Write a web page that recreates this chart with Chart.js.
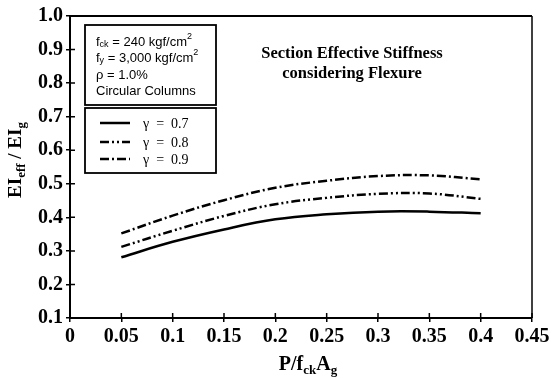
<!DOCTYPE html>
<html>
<head>
<meta charset="utf-8">
<script src="https://cdn.jsdelivr.net/npm/chart.js@4.4.0/dist/chart.umd.min.js"></script>
<style>
  html, body { margin: 0; padding: 0; background: #fff; }
  #wrap { width: 553px; height: 378px; }
</style>
</head>
<body>
<div id="wrap"><canvas id="mychart" width="553" height="378"></canvas></div>
<script>
// Dữ liệu
const xValues = [0.05, 0.1, 0.15, 0.2, 0.25, 0.3, 0.35, 0.4];
const gamma07 = [0.281, 0.327, 0.364, 0.394, 0.409, 0.417, 0.417, 0.412];
const gamma08 = [0.312, 0.360, 0.404, 0.439, 0.458, 0.470, 0.471, 0.455];
const gamma09 = [0.352, 0.405, 0.451, 0.488, 0.509, 0.523, 0.525, 0.513];
const seriesLabels = ["γ  =  0.7", "γ  =  0.8", "γ  =  0.9"];
const xTickLabels = ["0", "0.05", "0.1", "0.15", "0.2", "0.25", "0.3", "0.35", "0.4", "0.45"];
const yTickLabels = ["0.1", "0.2", "0.3", "0.4", "0.5", "0.6", "0.7", "0.8", "0.9", "1.0"];

const SERIF = "'Liberation Serif', 'Times New Roman', serif";
const SANS = "'Liberation Sans', Arial, sans-serif";

function pts(ys) {
  return xValues.map((x, i) => ({ x: x, y: ys[i] }));
}

// vẽ chữ có chỉ số dưới / trên
function richWidth(ctx, parts) {
  let w = 0;
  parts.forEach((p) => {
    ctx.font = p.font;
    w += ctx.measureText(p.t).width;
  });
  return w;
}
function drawRich(ctx, parts, x, y, align) {
  let cx = align === "center" ? x - richWidth(ctx, parts) / 2 : x;
  ctx.textAlign = "left";
  ctx.textBaseline = "alphabetic";
  parts.forEach((p) => {
    ctx.font = p.font;
    ctx.fillText(p.t, cx, y + (p.dy || 0));
    cx += ctx.measureText(p.t).width;
  });
}

const decorations = {
  id: "decorations",
  afterDatasetsDraw(chart) {
    const ctx = chart.ctx;
    const a = chart.chartArea;
    const xs = chart.scales.x;
    const ys = chart.scales.y;
    ctx.save();
    ctx.strokeStyle = "#000";
    ctx.fillStyle = "#000";

    // khung trên + phải
    ctx.lineWidth = 2;
    ctx.beginPath();
    ctx.moveTo(a.left, a.top);
    ctx.lineTo(a.right, a.top);
    ctx.stroke();
    ctx.lineWidth = 1.5;
    ctx.beginPath();
    ctx.moveTo(a.right, a.top);
    ctx.lineTo(a.right, a.bottom);
    ctx.stroke();

    // vạch chia hướng vào trong
    ctx.lineWidth = 1.5;
    ctx.beginPath();
    xs.ticks.forEach((t) => {
      const px = xs.getPixelForValue(t.value);
      ctx.moveTo(px, a.bottom);
      ctx.lineTo(px, a.bottom - 5);
    });
    ys.ticks.forEach((t) => {
      const py = ys.getPixelForValue(t.value);
      ctx.moveTo(a.left, py);
      ctx.lineTo(a.left + 5, py);
    });
    ctx.stroke();

    // tiêu đề
    ctx.font = "bold 16.5px " + SERIF;
    ctx.textAlign = "center";
    ctx.textBaseline = "alphabetic";
    ctx.fillText("Section Effective Stiffness", 352, 58);
    ctx.fillText("considering Flexure", 352, 78);

    // hộp thông số
    ctx.lineWidth = 1.8;
    ctx.strokeRect(85, 25, 131, 80);
    const f = "13px " + SANS;
    const fs = "9px " + SANS;
    drawRich(ctx, [
      { t: "f", font: f }, { t: "ck", font: fs, dy: 1 },
      { t: " = 240 kgf/cm", font: f }, { t: "2", font: fs, dy: -7 },
    ], 96, 46, "left");
    drawRich(ctx, [
      { t: "f", font: f }, { t: "y", font: fs, dy: 1 },
      { t: " = 3,000 kgf/cm", font: f }, { t: "2", font: fs, dy: -7 },
    ], 96, 62, "left");
    drawRich(ctx, [{ t: "ρ = 1.0%", font: f }], 96, 79, "left");
    drawRich(ctx, [{ t: "Circular Columns", font: f }], 96, 95, "left");

    // chú giải
    ctx.strokeRect(85, 108, 131, 65);
    const rows = [123, 142, 159];
    chart.data.datasets.forEach((ds, i) => {
      ctx.save();
      ctx.lineWidth = ds.borderWidth;
      ctx.setLineDash(ds.borderDash || []);
      ctx.beginPath();
      ctx.moveTo(100, rows[i]);
      ctx.lineTo(130, rows[i]);
      ctx.stroke();
      ctx.restore();
      ctx.font = "14px " + SERIF;
      ctx.textAlign = "left";
      ctx.textBaseline = "middle";
      ctx.fillText(ds.label, 143, rows[i] + 1);
    });

    // tên trục
    const big = "bold 20px " + SERIF;
    const small = "bold 13px " + SERIF;
    drawRich(ctx, [
      { t: "P/f", font: big }, { t: "ck", font: small, dy: 4 },
      { t: "A", font: big }, { t: "g", font: small, dy: 4 },
    ], 308, 370, "center");

    ctx.save();
    ctx.translate(21, 160);
    ctx.rotate(-Math.PI / 2);
    drawRich(ctx, [
      { t: "EI", font: "bold 19px " + SERIF }, { t: "eff", font: small, dy: 4 },
      { t: " / EI", font: "bold 19px " + SERIF }, { t: "g", font: small, dy: 4 },
    ], 0, 0, "center");
    ctx.restore();

    ctx.restore();
  },
};

const ctx = document.getElementById("mychart").getContext("2d");
const mychart = new Chart(ctx, {
  type: "line",
  data: {
    datasets: [
      {
        label: seriesLabels[0],
        data: pts(gamma07),
        borderColor: "#000",
        borderWidth: 2.5,
        borderDash: [],
      },
      {
        label: seriesLabels[1],
        data: pts(gamma08),
        borderColor: "#000",
        borderWidth: 2.5,
        borderDash: [9, 3, 2, 3, 2, 3],
      },
      {
        label: seriesLabels[2],
        data: pts(gamma09),
        borderColor: "#000",
        borderWidth: 2.5,
        borderDash: [9, 3, 2, 3],
      },
    ],
  },
  options: {
    responsive: false,
    animation: false,
    devicePixelRatio: 1,
    layout: { padding: { top: 16, right: 21, left: 0, bottom: 0 } },
    elements: {
      point: { radius: 0 },
      line: { tension: 0.4, fill: false },
    },
    plugins: {
      legend: { display: false },
      title: { display: false },
      tooltip: { enabled: false },
    },
    scales: {
      x: {
        type: "linear",
        min: 0,
        max: 0.45,
        afterFit: (s) => { s.height = 60; },
        border: { color: "#000", width: 2 },
        grid: { drawOnChartArea: false, color: "#000", lineWidth: 1.5, tickLength: 4 },
        ticks: {
          stepSize: 0.05,
          padding: 3,
          color: "#000",
          maxRotation: 0,
          font: { family: SERIF, size: 20, weight: "bold" },
          callback: (v) => xTickLabels[Math.round(v / 0.05)],
        },
      },
      y: {
        min: 0.1,
        max: 1.0,
        afterFit: (s) => { s.width = 70; },
        border: { color: "#000", width: 2 },
        grid: { drawOnChartArea: false, color: "#000", lineWidth: 1.5, tickLength: 4 },
        ticks: {
          stepSize: 0.1,
          padding: 3,
          color: "#000",
          font: { family: SERIF, size: 20, weight: "bold" },
          callback: (v) => yTickLabels[Math.round((v - 0.1) / 0.1)],
        },
      },
    },
  },
  plugins: [decorations],
});
</script>
</body>
</html>
